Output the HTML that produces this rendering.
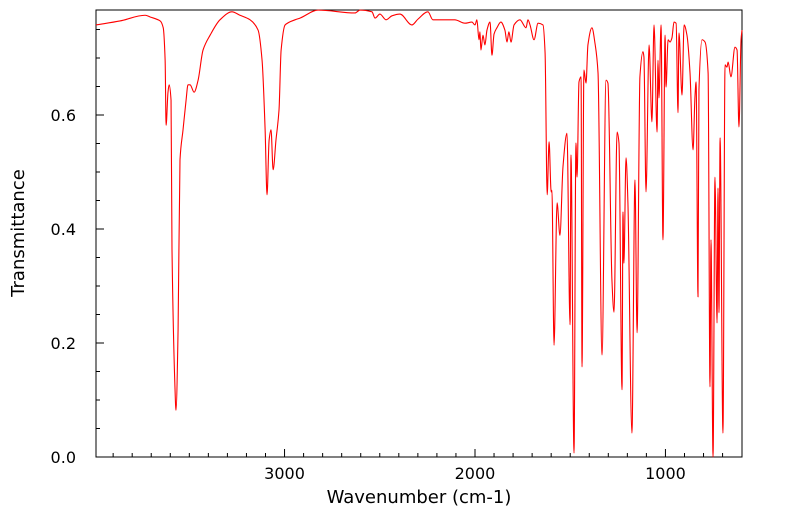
<!DOCTYPE html>
<html><head><meta charset="utf-8"><style>
html,body{margin:0;padding:0;background:#fff;width:799px;height:516px;overflow:hidden}
svg{font-family:"DejaVu Sans","Liberation Sans",sans-serif}
</style></head><body>
<svg id="chart" width="799" height="516" xmlns="http://www.w3.org/2000/svg"></svg>
<script>
const wavenumbers=[3990,3864,3732,3706,3653,3637,3627,3622,3612,3606,3596,3591,3575,3570,3559,3549,3533,3517,3507,3496,3475,3454,3428,3391,3339,3276,3234,3181,3139,3118,3102,3092,3081,3071,3060,3045,3029,3018,2997,2945,2919,2824,2630,2604,2541,2525,2499,2467,2436,2394,2331,2300,2247,2221,2158,2106,2053,2016,2000,1990,1979,1974,1969,1958,1948,1937,1921,1911,1900,1885,1864,1843,1832,1822,1811,1795,1764,1732,1722,1711,1690,1669,1643,1632,1621,1611,1600,1596,1585,1569,1554,1538,1517,1501,1496,1480,1470,1464,1454,1443,1438,1428,1417,1407,1386,1370,1354,1333,1312,1302,1281,1270,1254,1244,1228,1223,1218,1207,1197,1176,1160,1149,1134,1118,1113,1102,1086,1071,1060,1044,1039,1034,1023,1013,1002,997,986,976,966,955,944,934,929,913,902,887,871,855,845,839,829,824,808,792,776,766,761,750,740,729,724,719,713,698,687,677,671,656,635,624,614,603,598];
const transmittance=[0.758,0.765,0.775,0.772,0.765,0.753,0.696,0.582,0.640,0.653,0.626,0.365,0.118,0.082,0.223,0.521,0.574,0.626,0.653,0.653,0.640,0.661,0.714,0.740,0.767,0.781,0.775,0.767,0.749,0.696,0.574,0.460,0.556,0.574,0.504,0.556,0.609,0.714,0.758,0.767,0.770,0.784,0.779,0.784,0.781,0.770,0.777,0.767,0.774,0.777,0.758,0.768,0.781,0.767,0.767,0.767,0.761,0.763,0.758,0.767,0.732,0.746,0.714,0.740,0.723,0.749,0.763,0.705,0.742,0.753,0.763,0.749,0.728,0.746,0.728,0.758,0.767,0.753,0.767,0.758,0.732,0.761,0.758,0.709,0.460,0.553,0.465,0.468,0.196,0.446,0.389,0.509,0.568,0.232,0.530,0.007,0.551,0.491,0.658,0.667,0.158,0.679,0.656,0.723,0.753,0.726,0.674,0.179,0.661,0.656,0.311,0.254,0.570,0.551,0.118,0.430,0.340,0.525,0.446,0.042,0.486,0.218,0.667,0.711,0.702,0.465,0.723,0.588,0.758,0.570,0.696,0.630,0.758,0.381,0.740,0.649,0.732,0.728,0.735,0.763,0.761,0.604,0.744,0.635,0.758,0.740,0.674,0.539,0.632,0.658,0.281,0.644,0.732,0.728,0.674,0.123,0.381,0.0,0.491,0.235,0.472,0.253,0.560,0.042,0.688,0.684,0.693,0.667,0.719,0.714,0.579,0.732,0.749];
const xTickLabels=[3000,2000,1000];
const yTickLabels=[0.0,0.2,0.4,0.6];

const L=96,R=742,T=10,B=457;
const X0=3990,X1=598;
const x=w=>L+(X0-w)/(X0-X1)*(R-L);
const y=v=>B-v*570;
const svg=document.getElementById('chart');
const NS='http://www.w3.org/2000/svg';
function mk(tag,attrs,parent){const e=document.createElementNS(NS,tag);for(const k in attrs)e.setAttribute(k,attrs[k]);(parent||svg).appendChild(e);return e;}

const frame=mk('rect',{x:L,y:T,width:R-L,height:B-T,fill:'none',stroke:'#000','stroke-width':1});



const xg=mk('g',{});


for(let w=700;w<=3900;w+=100){
  const major=w%1000===0;
  const px=x(w);
  const t=mk('line',{x1:px,x2:px,y1:B,y2:B-(major?8:4),stroke:'#000','stroke-width':1},xg);
  
  
}
xTickLabels.forEach(v=>{
  const t=mk('text',{x:x(v),y:B+22,'text-anchor':'middle','font-size':16,fill:'#000'},xg);
  t.textContent=v;
  
  
});
const xt=mk('text',{x:419,y:503,'text-anchor':'middle','font-size':18,fill:'#000'},xg);
xt.textContent='Wavenumber (cm-1)';



const yg=mk('g',{});


for(let i=0;i<=15;i++){
  const v=i*0.05;const major=i%4===0;
  const py=y(v);
  const t=mk('line',{x1:L,x2:L+(major?8:4),y1:py,y2:py,stroke:'#000','stroke-width':1},yg);
  
  
}
yTickLabels.forEach(v=>{
  const t=mk('text',{x:L-20,y:y(v)+6,'text-anchor':'end','font-size':16,fill:'#000'},yg);
  t.textContent=v.toFixed(1);
  
  
});
const yt=mk('text',{x:24,y:233,'text-anchor':'middle','font-size':18,fill:'#000',transform:'rotate(-90 24 233)'},yg);
yt.textContent='Transmittance';



// monotone cubic path through points
const P=wavenumbers.map((w,i)=>[x(w),y(transmittance[i])]);
const n=P.length,m=[],s=[];
for(let i=0;i<n-1;i++){s.push((P[i+1][1]-P[i][1])/((P[i+1][0]-P[i][0])||1e-6));}
for(let i=0;i<n;i++){
  if(i===0)m.push(s[0]);else if(i===n-1)m.push(s[n-2]);
  else{const a=s[i-1],b=s[i];m.push(a*b<=0?0:2/(1/a+1/b));}
}
let d='M'+P[0][0].toFixed(2)+','+P[0][1].toFixed(2);
for(let i=0;i<n-1;i++){
  const h=(P[i+1][0]-P[i][0])/3;
  d+='C'+(P[i][0]+h).toFixed(2)+','+(P[i][1]+m[i]*h).toFixed(2)+' '+(P[i+1][0]-h).toFixed(2)+','+(P[i+1][1]-m[i+1]*h).toFixed(2)+' '+P[i+1][0].toFixed(2)+','+P[i+1][1].toFixed(2);
}
const line=mk('path',{d:d,fill:'none',stroke:'#ff0000','stroke-width':1.1,'stroke-linejoin':'round'});


</script>
</body></html>
